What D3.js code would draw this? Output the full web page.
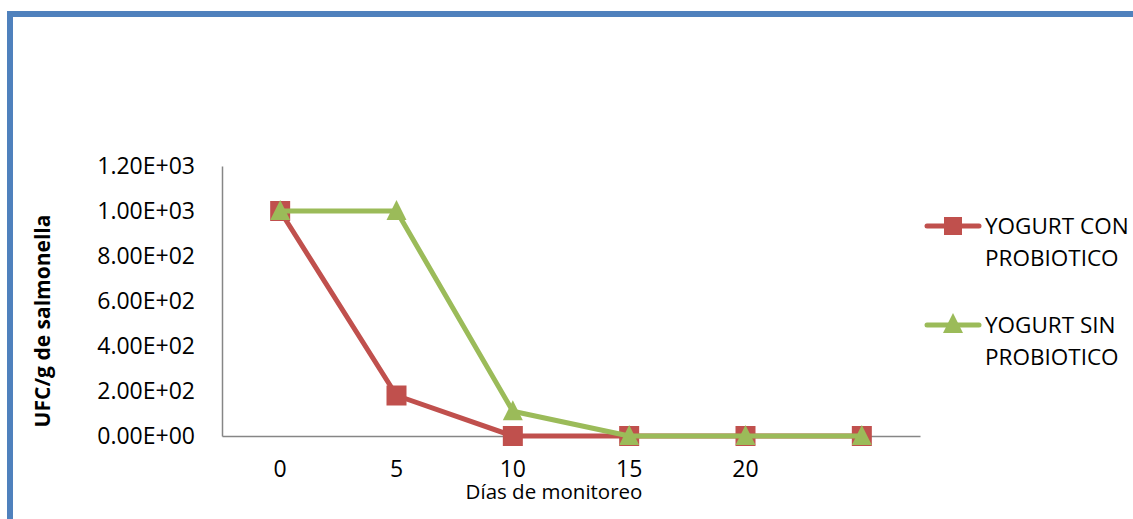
<!DOCTYPE html>
<html>
<head>
<meta charset="utf-8">
<script src="https://cdn.jsdelivr.net/npm/d3@7"></script>
<style>
  html, body { margin: 0; padding: 0; background: #fff; }
  svg { display: block; font-family: "Open Sans", sans-serif; }
</style>
</head>
<body>
<svg id="chart" width="1133" height="519"></svg>
<script>
// Monitoring days (last category carries no label)
const days = ["0", "5", "10", "15", "20", ""];
// UFC/g of salmonella per day
const conProbiotico = [1000, 180, 0, 0, 0, 0];
const sinProbiotico = [1000, 1000, 110, 0, 0, 0];
const yTicks = [0, 200, 400, 600, 800, 1000, 1200];
const seriesNames = [["YOGURT CON", "PROBIOTICO"], ["YOGURT SIN", "PROBIOTICO"]];

const svg = d3.select("#chart");
const W = 1133, H = 519;

// Frame around the chart (top and left edges)
svg.append("path")
  .attr("d", `M10,${H} L10,14 L${W},14`)
  .attr("fill", "none")
  .attr("stroke", "#4F81BD")
  .attr("stroke-width", 6);

const plot = { left: 222, right: 920, top: 166, bottom: 436 };

const x = d3.scaleBand().domain(d3.range(days.length)).range([plot.left, plot.right]);
const y = d3.scaleLinear().domain([0, 1200]).range([plot.bottom, plot.top]);
const cx = i => x(i) + x.bandwidth() / 2;

// Y axis
const yAxis = svg.append("g")
  .attr("transform", `translate(${plot.left},0)`)
  .call(d3.axisLeft(y).tickValues(yTicks).tickSize(0).tickPadding(27)
    .tickFormat(v => v.toExponential(2).replace("e+", "E+").replace(/E\+(\d)$/, "E+0$1")));
yAxis.select(".domain").attr("stroke", "#868686").attr("stroke-width", 1.5);
yAxis.selectAll("text").attr("font-size", 23).attr("fill", "#000")
  .attr("font-family", "Open Sans, sans-serif");

// X axis
const xAxis = svg.append("g")
  .attr("transform", `translate(0,${plot.bottom})`)
  .call(d3.axisBottom(x).tickSize(0).tickPadding(25).tickFormat(i => days[i]));
xAxis.select(".domain").attr("stroke", "#868686").attr("stroke-width", 1.5);
xAxis.selectAll("text").attr("font-size", 23).attr("fill", "#000")
  .attr("font-family", "Open Sans, sans-serif");

// Axis titles
svg.append("text")
  .attr("x", 554)
  .attr("y", 499)
  .attr("text-anchor", "middle")
  .attr("font-size", 20.5)
  .text("Días de monitoreo");

svg.append("text")
  .attr("transform", `translate(50,321) rotate(-90)`)
  .attr("text-anchor", "middle")
  .attr("font-size", 21)
  .attr("font-weight", "bold")
  .text("UFC/g de salmonella");

const line = d3.line().x((d, i) => cx(i)).y(d => y(d));
const red = "#C0504D", green = "#9BBB59";

function square(g, px, py, s, color) {
  g.append("rect").attr("x", px - s / 2).attr("y", py - s / 2)
    .attr("width", s).attr("height", s).attr("fill", color);
}
function triangle(g, px, py, s, color) {
  g.append("path")
    .attr("d", `M${px},${py - s * 0.55} L${px + s / 2},${py + s * 0.45} L${px - s / 2},${py + s * 0.45} Z`)
    .attr("fill", color);
}

// Series with probiotic
const gCon = svg.append("g");
gCon.append("path").datum(conProbiotico).attr("d", line)
  .attr("fill", "none").attr("stroke", red).attr("stroke-width", 5).attr("stroke-linejoin", "round");
conProbiotico.forEach((v, i) => square(gCon, cx(i), y(v), 20, red));

// Series without probiotic
const gSin = svg.append("g");
gSin.append("path").datum(sinProbiotico).attr("d", line)
  .attr("fill", "none").attr("stroke", green).attr("stroke-width", 5).attr("stroke-linejoin", "round");
sinProbiotico.forEach((v, i) => triangle(gSin, cx(i), y(v), 20, green));

// Legend
const legendY = [226, 325];
const colors = [red, green];
seriesNames.forEach((lines, k) => {
  const g = svg.append("g");
  const ly = legendY[k];
  g.append("line").attr("x1", 927).attr("x2", 979).attr("y1", ly).attr("y2", ly)
    .attr("stroke", colors[k]).attr("stroke-width", 5).attr("stroke-linecap", "round");
  if (k === 0) square(g, 953, ly, 18, colors[k]);
  else triangle(g, 953, ly - 1, 20, colors[k]);
  lines.forEach((t, j) => {
    g.append("text").attr("x", 985).attr("y", ly + 8 + j * 32)
      .attr("font-size", 22.5).attr("fill", "#000").text(t);
  });
});
</script>
</body>
</html>
